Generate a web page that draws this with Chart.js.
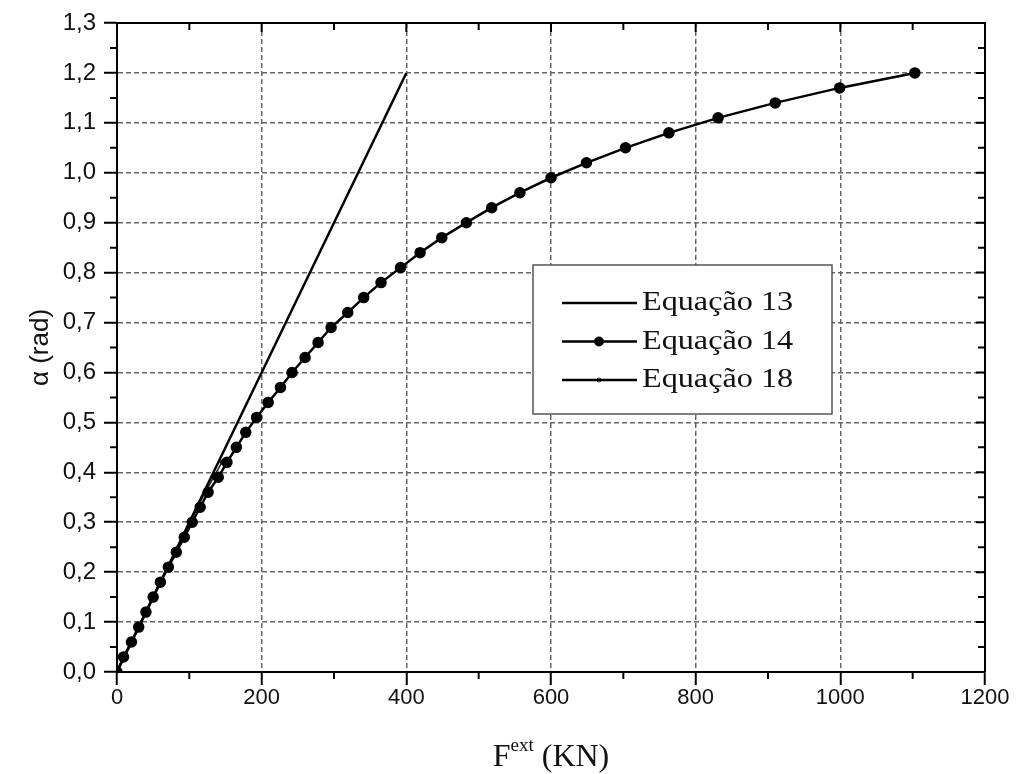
<!DOCTYPE html>
<html>
<head>
<meta charset="utf-8">
<script src="https://cdn.jsdelivr.net/npm/chart.js@4.4.0/dist/chart.umd.min.js"></script>
<style>
html, body { margin: 0; padding: 0; background: #fff; }
#wrap { width: 1016px; height: 774px; }
</style>
</head>
<body>
<div id="wrap"><canvas id="alphaChart" width="1016" height="774"></canvas></div>
<script>
// Equação 13 (reta)
const eq13Force = [0, 400];
const eq13Alpha = [0, 1.2];

// Equação 14
const eq14Force = [0, 9, 20, 30, 40, 50, 60, 71, 82, 93, 104, 115, 126, 140, 152, 165, 178, 193, 209, 226,
    242, 260, 278, 296, 319, 341, 365, 392, 419, 449, 483, 518, 557, 600, 649, 703, 763, 831, 910, 999, 1103];
const eq14Alpha = [0, 0.03, 0.06, 0.09, 0.12, 0.15, 0.18, 0.21, 0.24, 0.27, 0.30, 0.33, 0.36, 0.39, 0.42,
    0.45, 0.48, 0.51, 0.54, 0.57, 0.60, 0.63, 0.66, 0.69, 0.72, 0.75, 0.78, 0.81, 0.84, 0.87, 0.90, 0.93,
    0.96, 0.99, 1.02, 1.05, 1.08, 1.11, 1.14, 1.17, 1.20];

// Equação 18 (quase coincide com a 14 no começo)
const eq18Force = [0, 9, 19.5, 29.5, 39.5, 49.5, 59.5, 70, 80.5, 91, 101.5, 111.5, 122, 133.5, 145];
const eq18Alpha = [0, 0.03, 0.06, 0.09, 0.12, 0.15, 0.18, 0.21, 0.24, 0.27, 0.30, 0.33, 0.36, 0.39, 0.42];

const xTicks = [0, 200, 400, 600, 800, 1000, 1200];
const yTicks = [0, 0.1, 0.2, 0.3, 0.4, 0.5, 0.6, 0.7, 0.8, 0.9, 1.0, 1.1, 1.2, 1.3];
const legendLabels = ['Equação 13', 'Equação 14', 'Equação 18'];

const serif = '"Liberation Serif", "Times New Roman", serif';

function toPoints(xs, ys) {
    return xs.map((x, i) => ({ x: x, y: ys[i] }));
}

// moldura, ticks menores, legenda e titulo do eixo x
const extrasPlugin = {
    id: 'extras',
    afterDraw(chart) {
        const ctx = chart.ctx;
        const a = chart.chartArea;
        const xs = chart.scales.x;
        const ys = chart.scales.y;
        ctx.save();
        ctx.strokeStyle = '#000';
        ctx.lineWidth = 2;
        ctx.beginPath();
        ctx.moveTo(a.left, a.top);
        ctx.lineTo(a.right, a.top);
        ctx.lineTo(a.right, a.bottom);
        ctx.stroke();

        ctx.beginPath();
        for (let v = 0; v <= 1200; v += 100) {
            const px = xs.getPixelForValue(v);
            const major = v % 200 === 0;
            if (!major) {
                ctx.moveTo(px, a.bottom);
                ctx.lineTo(px, a.bottom + 7);
            }
            ctx.moveTo(px, a.top);
            ctx.lineTo(px, a.top + (major ? 9 : 7));
        }
        for (let k = 0; k <= 26; k++) {
            const py = ys.getPixelForValue(k * 0.05);
            const major = k % 2 === 0;
            if (!major) {
                ctx.moveTo(a.left, py);
                ctx.lineTo(a.left - 7, py);
            }
            ctx.moveTo(a.right, py);
            ctx.lineTo(a.right - (major ? 9 : 7), py);
        }
        ctx.stroke();

        // legenda
        const bx = 533, by = 265, bw = 299, bh = 149;
        ctx.fillStyle = '#fff';
        ctx.fillRect(bx, by, bw, bh);
        ctx.strokeStyle = '#555';
        ctx.lineWidth = 1.5;
        ctx.strokeRect(bx, by, bw, bh);
        chart.data.datasets.forEach((ds, i) => {
            const ry = by + 38 + i * 38.5;
            ctx.strokeStyle = '#000';
            ctx.lineWidth = 2.5;
            ctx.beginPath();
            ctx.moveTo(bx + 29, ry);
            ctx.lineTo(bx + 104, ry);
            ctx.stroke();
            if (ds.pointRadius > 0) {
                ctx.fillStyle = '#000';
                ctx.lineWidth = 1;
                Chart.helpers.drawPoint(ctx, { pointStyle: ds.pointStyle, radius: ds.pointRadius, rotation: 0, borderWidth: 1 }, bx + 66, ry);
            }
            ctx.save();
            ctx.translate(bx + 109, ry + 7);
            ctx.scale(1.15, 1);
            ctx.font = '28px ' + serif;
            ctx.textBaseline = 'alphabetic';
            ctx.fillStyle = '#111';
            ctx.fillText(ds.label, 0, 0);
            ctx.restore();
        });

        // titulo do eixo x com sobrescrito
        const cx = (a.left + a.right) / 2;
        const base = 766;
        ctx.fillStyle = '#111';
        ctx.textBaseline = 'alphabetic';
        const big = '32px ' + serif;
        const small = '19px ' + serif;
        ctx.font = big;
        const wF = ctx.measureText('F').width;
        const wRest = ctx.measureText(' (KN)').width;
        ctx.font = small;
        const wSup = ctx.measureText('ext').width;
        const x0 = cx - (wF + wSup + wRest) / 2;
        ctx.font = big;
        ctx.fillText('F', x0, base);
        ctx.font = small;
        ctx.fillText('ext', x0 + wF, base - 15);
        ctx.font = big;
        ctx.fillText(' (KN)', x0 + wF + wSup, base);
        ctx.restore();
    }
};

const gridOpts = {
    color: '#666',
    lineWidth: 1.5,
    tickColor: '#000',
    tickWidth: 2,
    tickLength: 13
};

const ctx = document.getElementById('alphaChart').getContext('2d');
const alphaChart = new Chart(ctx, {
    type: 'scatter',
    data: {
        datasets: [{
            label: legendLabels[0],
            data: toPoints(eq13Force, eq13Alpha),
            showLine: true,
            borderColor: '#000',
            borderWidth: 2.5,
            pointRadius: 0,
            pointHoverRadius: 0
        }, {
            label: legendLabels[1],
            data: toPoints(eq14Force, eq14Alpha),
            showLine: true,
            borderColor: '#000',
            backgroundColor: '#000',
            borderWidth: 2.5,
            pointRadius: 4.5,
            pointStyle: 'circle'
        }, {
            label: legendLabels[2],
            data: toPoints(eq18Force, eq18Alpha),
            showLine: true,
            borderColor: '#222',
            backgroundColor: '#000',
            borderWidth: 1.5,
            pointRadius: 2.5,
            pointStyle: 'star'
        }]
    },
    options: {
        responsive: false,
        animation: false,
        events: [],
        layout: { padding: { top: 23, right: 31, left: 0, bottom: 0 } },
        plugins: {
            legend: { display: false },
            tooltip: { enabled: false }
        },
        scales: {
            x: {
                type: 'linear',
                min: 0,
                max: 1200,
                afterFit(scale) { scale.height = 102; },
                afterBuildTicks(scale) { scale.ticks = xTicks.map(v => ({ value: v })); },
                ticks: {
                    color: '#111',
                    padding: 0,
                    maxRotation: 0,
                    font: { family: '"Liberation Sans", sans-serif', size: 22 },
                    callback: v => String(v)
                },
                grid: gridOpts,
                border: { display: true, color: '#000', width: 2, dash: [5, 3] }
            },
            y: {
                type: 'linear',
                min: 0,
                max: 1.3,
                afterFit(scale) { scale.width = 117; },
                afterBuildTicks(scale) { scale.ticks = yTicks.map(v => ({ value: v })); },
                ticks: {
                    color: '#111',
                    padding: 8,
                    font: { family: '"Liberation Sans", sans-serif', size: 24 },
                    callback: v => v.toFixed(1).replace('.', ',')
                },
                title: {
                    display: true,
                    text: 'α (rad)',
                    color: '#111',
                    padding: { top: 25, bottom: 0 },
                    font: { family: '"Liberation Sans", sans-serif', size: 26 }
                },
                grid: gridOpts,
                border: { display: true, color: '#000', width: 2, dash: [5, 3] }
            }
        }
    },
    plugins: [extrasPlugin]
});
</script>
</body>
</html>
